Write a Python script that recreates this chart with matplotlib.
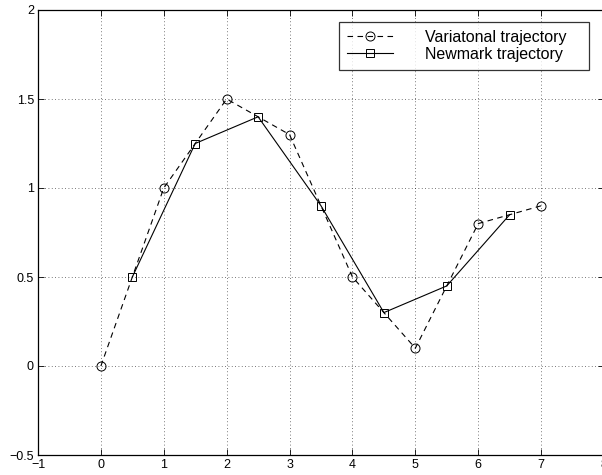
import matplotlib.pyplot as plt

plt.rcParams['font.family'] = ['Liberation Sans', 'DejaVu Sans']

# Variational trajectory (integer time steps)
var_t = [0, 1, 2, 3, 4, 5, 6, 7]
var_x = [0.0, 1.0, 1.5, 1.3, 0.5, 0.1, 0.8, 0.9]

# Newmark trajectory (half steps)
new_t = [0.5, 1.5, 2.5, 3.5, 4.5, 5.5, 6.5]
new_x = [0.5, 1.25, 1.4, 0.9, 0.3, 0.45, 0.85]

fig = plt.figure(figsize=(6.02, 4.75), dpi=100)
ax = fig.add_axes([38 / 602, 20 / 475, 566 / 602, 445 / 475])

ax.plot(var_t, var_x, color="black", linestyle="--", linewidth=0.8,
        marker="o", markersize=6.5, markerfacecolor="none", markeredgewidth=0.7,
        dashes=(5, 4), label="Variatonal trajectory")
ax.plot(new_t, new_x, color="black", linestyle="-", linewidth=0.8,
        marker="s", markersize=5.5, markerfacecolor="none", markeredgewidth=0.7,
        label="Newmark trajectory")

ax.set_xlim(-1, 8)
ax.set_ylim(-0.5, 2)
ax.set_xticks(range(-1, 9))
ax.set_yticks([-0.5, 0, 0.5, 1, 1.5, 2])
ax.set_yticklabels(["\u22120.5", "0", "0.5", "1", "1.5", "2"])
ax.set_xticklabels(["\u22121"] + [str(i) for i in range(0, 9)])
ax.tick_params(direction="in", top=True, right=True, labelsize=9, length=4, width=0.6, pad=3)
ax.grid(True, linestyle=(0, (1, 3)), color="black", linewidth=0.6, alpha=0.7)
for s in ax.spines.values():
    s.set_linewidth(0.9)

leg = ax.legend(loc="upper left", bbox_to_anchor=(0.532, 0.871, 0.4417, 0.102), mode="expand",
                fontsize=11.5, frameon=True, fancybox=False, edgecolor="black",
                handlelength=2.9, handletextpad=2.0, borderpad=0.5, labelspacing=0.1,
                borderaxespad=0)
leg.get_frame().set_linewidth(0.9)

plt.savefig("out.png", dpi=100)
